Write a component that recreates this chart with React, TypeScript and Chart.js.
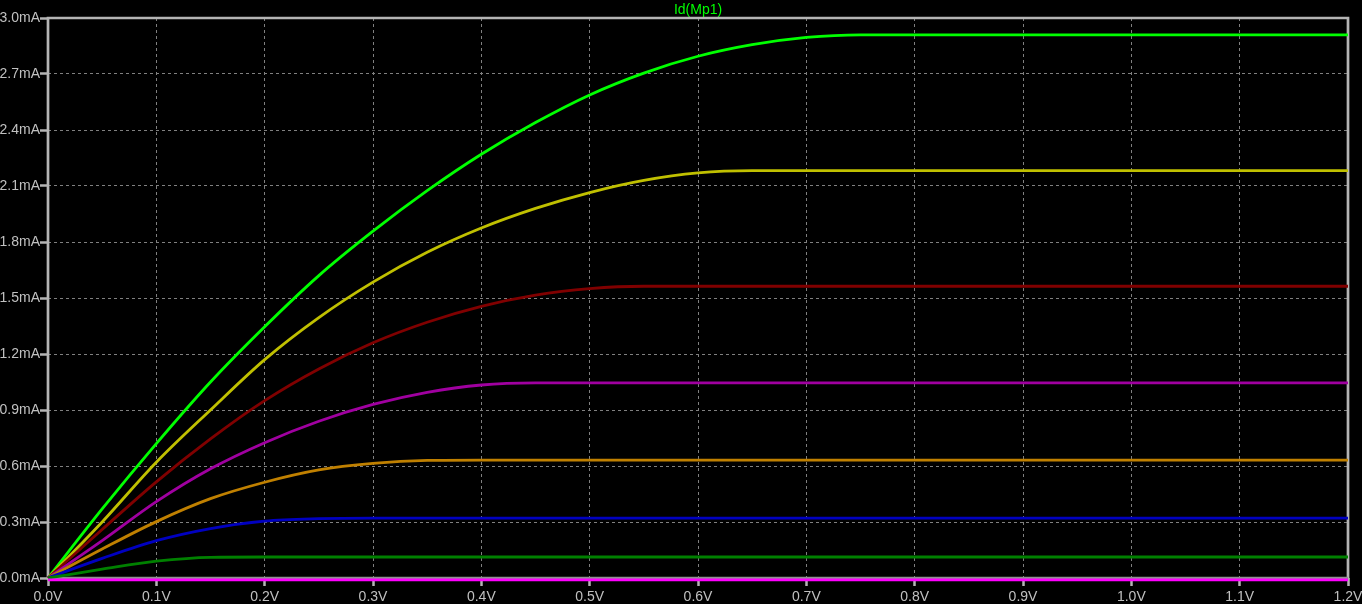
import React, { useEffect, useRef } from "react";
import { Chart, registerables } from "chart.js";

Chart.register(...registerables);

// Drain-source voltage samples (V)
const vds = [0, 0.05, 0.1, 0.15, 0.2, 0.25, 0.3, 0.35, 0.4, 0.45, 0.5, 0.55, 0.6, 0.65, 0.7, 0.75, 0.8, 1.2];

// Drain current traces (mA), one per gate step
const idBrightGreen = [0, 0.37, 0.72, 1.05, 1.346, 1.62, 1.858, 2.075, 2.27, 2.44, 2.588, 2.705, 2.795, 2.857, 2.896, 2.91, 2.91, 2.91];
const idYellow = [0, 0.3, 0.62, 0.9, 1.17, 1.395, 1.585, 1.745, 1.875, 1.98, 2.065, 2.13, 2.17, 2.182, 2.182, 2.182, 2.182, 2.182];
const idDarkRed = [0, 0.26, 0.515, 0.745, 0.95, 1.12, 1.26, 1.37, 1.455, 1.515, 1.55, 1.563, 1.563, 1.563, 1.563, 1.563, 1.563, 1.563];
const idPurple = [0, 0.2, 0.409, 0.585, 0.725, 0.84, 0.93, 0.995, 1.034, 1.045, 1.045, 1.045, 1.045, 1.045, 1.045, 1.045, 1.045, 1.045];
const idOrange = [0, 0.155, 0.302, 0.425, 0.513, 0.579, 0.614, 0.63, 0.632, 0.632, 0.632, 0.632, 0.632, 0.632, 0.632, 0.632, 0.632, 0.632];
const idBlue = [0, 0.105, 0.2, 0.265, 0.305, 0.318, 0.321, 0.321, 0.321, 0.321, 0.321, 0.321, 0.321, 0.321, 0.321, 0.321, 0.321, 0.321];
const idDarkGreen = [0, 0.047, 0.09, 0.111, 0.1125, 0.1125, 0.1125, 0.1125, 0.1125, 0.1125, 0.1125, 0.1125, 0.1125, 0.1125, 0.1125, 0.1125, 0.1125, 0.1125];
const idMagenta = [-0.01, -0.01, -0.01, -0.01, -0.01, -0.01, -0.01, -0.01, -0.01, -0.01, -0.01, -0.01, -0.01, -0.01, -0.01, -0.01, -0.01, -0.01];

// Axis ticks
const xTickValues = [0, 0.1, 0.2, 0.3, 0.4, 0.5, 0.6, 0.7, 0.8, 0.9, 1.0, 1.1, 1.2];
const xTickLabels = ["0.0V", "0.1V", "0.2V", "0.3V", "0.4V", "0.5V", "0.6V", "0.7V", "0.8V", "0.9V", "1.0V", "1.1V", "1.2V"];
const yTickValues = [0, 0.3, 0.6, 0.9, 1.2, 1.5, 1.8, 2.1, 2.4, 2.7, 3.0];
const yTickLabels = ["0.0mA", "0.3mA", "0.6mA", "0.9mA", "1.2mA", "1.5mA", "1.8mA", "2.1mA", "2.4mA", "2.7mA", "3.0mA"];

const titleText = "Id(Mp1)";

const series = [
  { values: idMagenta, color: "#ff00ff" },
  { values: idDarkGreen, color: "#008000" },
  { values: idBlue, color: "#0000c0" },
  { values: idOrange, color: "#c08000" },
  { values: idPurple, color: "#a000a0" },
  { values: idDarkRed, color: "#800000" },
  { values: idYellow, color: "#c0c000" },
  { values: idBrightGreen, color: "#00ff00" },
];

const FONT = { family: "'Liberation Sans', Arial, sans-serif", size: 14, weight: "normal" as const };
const LABEL = "#c0c0c0";

const framePlugin = {
  id: "frame",
  beforeDatasetsDraw(chart: any) {
    const { ctx, chartArea } = chart;
    const { left, right, top, bottom } = chartArea;
    ctx.save();
    ctx.lineWidth = 2.7;
    ctx.strokeStyle = "#b4b4b4";
    ctx.beginPath();
    ctx.moveTo(left, bottom + 1.5);
    ctx.lineTo(left, top);
    ctx.lineTo(right, top);
    ctx.lineTo(right, bottom + 1.5);
    ctx.stroke();
    ctx.strokeStyle = "#909090";
    ctx.beginPath();
    ctx.moveTo(left, bottom);
    ctx.lineTo(right, bottom);
    ctx.stroke();
    ctx.restore();
  },
};

export default function App() {
  const ref = useRef<HTMLCanvasElement | null>(null);

  useEffect(() => {
    document.body.style.margin = "0";
    document.body.style.background = "#000";
    const canvas = ref.current;
    if (!canvas) return;
    const chart = new Chart(canvas, {
      type: "line",
      data: {
        datasets: series.map((s) => ({
          data: vds.map((v, i) => ({ x: v, y: s.values[i] })),
          borderColor: s.color,
          backgroundColor: s.color,
          borderWidth: 2.8,
          pointRadius: 0,
          cubicInterpolationMode: "monotone" as const,
          clip: 6,
          fill: false,
        })),
      },
      options: {
        responsive: false,
        animation: false,
        devicePixelRatio: 1,
        layout: { padding: { top: 0, right: 14, left: 0, bottom: 0 } },
        plugins: {
          legend: { display: false },
          tooltip: { enabled: false },
          title: {
            display: true,
            text: titleText,
            color: "#00ff00",
            font: { family: FONT.family, size: 14, weight: "normal", lineHeight: 1.1 },
            fullSize: false,
            padding: { top: 2.6, bottom: 0 },
          },
        },
        scales: {
          x: {
            type: "linear",
            min: 0,
            max: 1.2,
            afterBuildTicks: (s: any) => {
              s.ticks = xTickValues.map((v) => ({ value: v }));
            },
            afterFit: (s: any) => {
              s.height = 26;
              s.paddingLeft = 0;
              s.paddingRight = 0;
            },
            ticks: {
              color: LABEL,
              font: { ...FONT },
              padding: 3,
              maxRotation: 0,
              autoSkip: false,
              callback: (_v: any, i: number) => xTickLabels[i],
            },
            grid: {
              color: "#808080",
              lineWidth: 1,
              drawTicks: true,
              tickLength: 8,
              tickWidth: 2.5,
              tickColor: "#b4b4b4",
            },
            border: { display: false, dash: [3, 3] },
          },
          y: {
            type: "linear",
            min: 0,
            max: 3.0,
            afterBuildTicks: (s: any) => {
              s.ticks = yTickValues.map((v) => ({ value: v }));
            },
            afterFit: (s: any) => {
              s.width = 48;
              s.paddingTop = 0;
              s.paddingBottom = 0;
            },
            ticks: {
              color: LABEL,
              font: { ...FONT },
              padding: 0,
              autoSkip: false,
              callback: (_v: any, i: number) => yTickLabels[i],
            },
            grid: {
              color: "#808080",
              lineWidth: 1,
              drawTicks: true,
              tickLength: 8,
              tickWidth: 2.5,
              tickColor: "#b4b4b4",
            },
            border: { display: false, dash: [3, 3] },
          },
        },
      },
      plugins: [framePlugin],
    });
    return () => chart.destroy();
  }, []);

  return (
    <div style={{ position: "fixed", left: 0, top: 0, width: 1362, height: 604, background: "#000" }}>
      <canvas ref={ref} width={1362} height={604} style={{ display: "block", width: 1362, height: 604 }} />
    </div>
  );
}
